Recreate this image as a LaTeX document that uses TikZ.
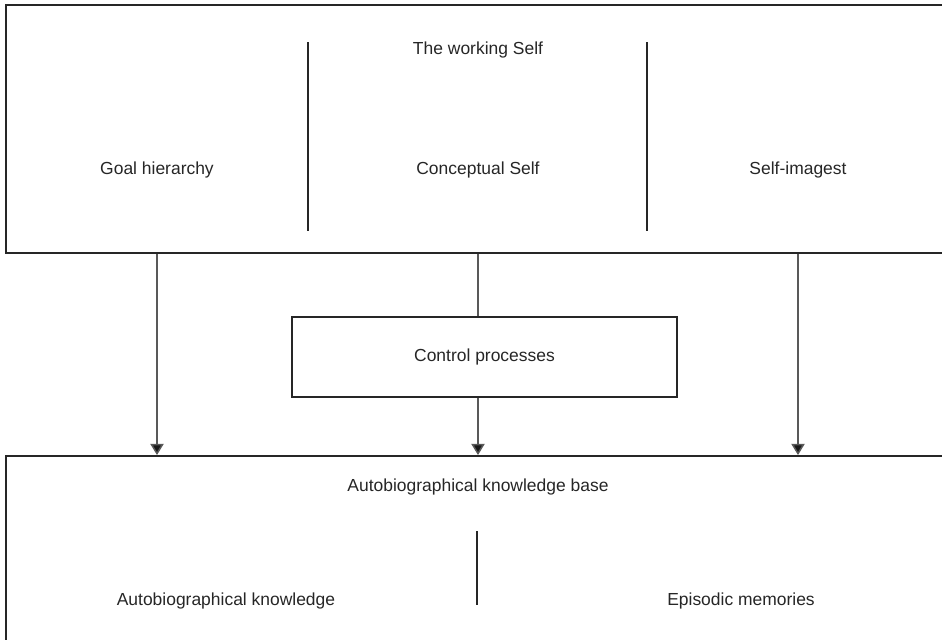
\documentclass[tikz,border=0pt]{standalone}
\usepackage{fontspec}
\setmainfont{Liberation Sans}
\usepackage{tikz}
\usetikzlibrary{arrows.meta,positioning}
\tikzset{
  >={Triangle[length=3.4mm, width=4mm, fill=black!90]},
  frame/.style={draw=black!85, line width=0.55mm, inner sep=0pt},
  lbl/.style={font=\fontsize{14.9}{17}\selectfont, text=black!85, inner sep=1pt},
  divider/.style={draw=black!85, line width=0.4mm},
  flow/.style={->, draw=black!65, line width=0.45mm},
}

\begin{document}
\begin{tikzpicture}[x=0.03cm, y=-0.03cm]
  \useasboundingbox (0,0) rectangle (942,640);
  \clip (0,0) rectangle (942,640);
  \node[frame, minimum width=28.62cm, minimum height=7.44cm] (self) at (483,129) {};
  \node[frame, minimum width=28.62cm, minimum height=6.12cm] (base) at (483,558) {};
  \node[frame, minimum width=11.55cm, minimum height=2.4cm] (ctrl) at (484.5,357) {};
  \node[lbl] at (ctrl) {Control processes};
  \node[lbl] (ws)      at (478,50)  {The working Self};
  \node[lbl] (goal)    at (157,170) {Goal hierarchy};
  \node[lbl] (concept) at (478,170) {Conceptual Self};
  \node[lbl] (image)   at (798,170) {Self-imagest};
  \node[lbl] (akb)     at (478,487) {Autobiographical knowledge base};
  \node[lbl] (ak)      at (226,601) {Autobiographical knowledge};
  \node[lbl] (epi)     at (741,601) {Episodic memories};
  \draw[divider] (308,42) -- (308,231);
  \draw[divider] (647,42) -- (647,231);
  \draw[divider] (477,531) -- (477,605);
  \draw[flow] (self.south -| goal) -- (base.north -| goal);
  \draw[flow] (self.south -| image) -- (base.north -| image);
  \draw[flow, -] (self.south -| concept) -- (ctrl.north -| concept);
  \draw[flow] (ctrl.south -| concept) -- (base.north -| concept);
\end{tikzpicture}
\end{document}
